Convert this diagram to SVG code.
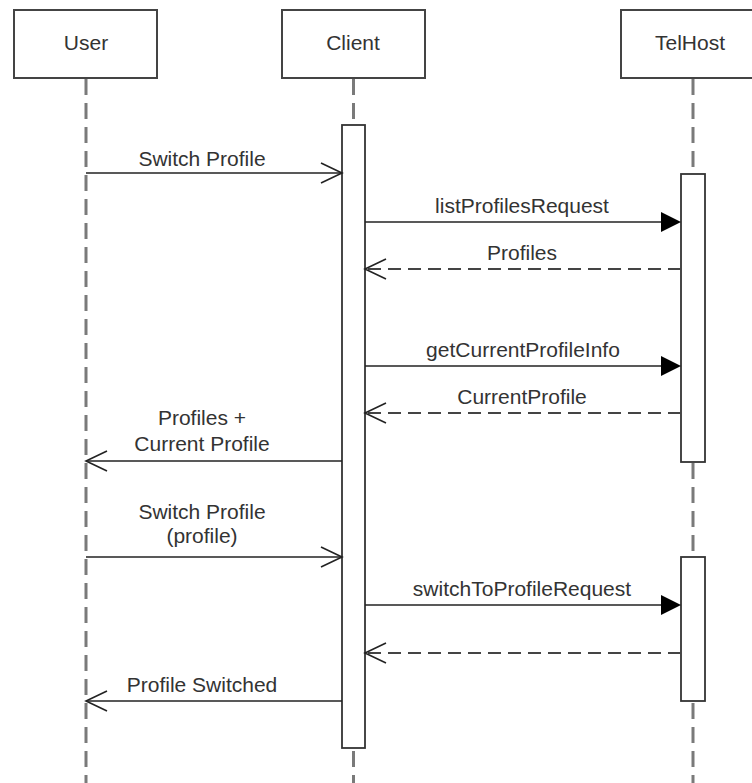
<svg xmlns="http://www.w3.org/2000/svg" width="752" height="783" viewBox="0 0 752 783">
  <style>
    .actor { fill: #ffffff; stroke: #444444; stroke-width: 2; }
    .life { stroke: #7a7a7a; stroke-width: 3; stroke-dasharray: 16 8; fill: none; }
    .act { fill: #ffffff; stroke: #333333; stroke-width: 1.8; }
    .msg { stroke: #222222; stroke-width: 1.6; fill: none; }
    .ret { stroke: #444444; stroke-width: 1.8; fill: none; stroke-dasharray: 13 7; }
    .head { stroke: #222222; stroke-width: 1.6; fill: none; }
    .tri { fill: #000000; stroke: none; }
    text { font-family: "Liberation Sans", Arial, sans-serif; font-size: 21px; fill: #333333; text-anchor: middle; }
  </style>

  <rect width="752" height="783" fill="#ffffff"/>

  <!-- lifelines -->
  <g id="lifelines">
    <line class="life" x1="86" y1="79" x2="86" y2="783"/>
    <line class="life" x1="353.5" y1="79" x2="353.5" y2="783"/>
    <line class="life" x1="693" y1="79" x2="693" y2="783"/>
  </g>

  <!-- participants -->
  <g id="user">
    <rect class="actor" x="14" y="10" width="143" height="68"/>
    <text x="86" y="50">User</text>
  </g>
  <g id="client">
    <rect class="actor" x="282" y="10" width="143" height="68"/>
    <text x="353" y="50">Client</text>
  </g>
  <g id="telhost">
    <rect class="actor" x="621" y="10" width="143" height="68"/>
    <text x="690" y="50">TelHost</text>
  </g>

  <!-- activation bars -->
  <g id="client-activation">
    <rect class="act" x="342" y="125" width="23" height="623"/>
  </g>
  <g id="telhost-activation-1">
    <rect class="act" x="681" y="174" width="24" height="288"/>
  </g>
  <g id="telhost-activation-2">
    <rect class="act" x="681" y="557" width="24" height="144"/>
  </g>

  <!-- messages -->
  <g id="connectors">
    <!-- Switch Profile -->
    <line class="msg" x1="86" y1="173" x2="342" y2="173"/>
    <polyline class="head" points="321,163 342,173 321,183"/>
    <!-- listProfilesRequest -->
    <line class="msg" x1="365" y1="222" x2="665" y2="222"/>
    <polygon class="tri" points="661,212 681,222 661,232"/>
    <!-- Profiles -->
    <line class="ret" x1="681" y1="269" x2="366" y2="269"/>
    <polyline class="head" points="386,259 365,269 386,279"/>
    <!-- getCurrentProfileInfo -->
    <line class="msg" x1="365" y1="366" x2="665" y2="366"/>
    <polygon class="tri" points="661,356 681,366 661,376"/>
    <!-- CurrentProfile -->
    <line class="ret" x1="681" y1="413" x2="366" y2="413"/>
    <polyline class="head" points="386,403 365,413 386,423"/>
    <!-- Profiles + Current Profile -->
    <line class="msg" x1="342" y1="461" x2="87" y2="461"/>
    <polyline class="head" points="107,451 86,461 107,471"/>
    <!-- Switch Profile (profile) -->
    <line class="msg" x1="86" y1="557" x2="342" y2="557"/>
    <polyline class="head" points="321,547 342,557 321,567"/>
    <!-- switchToProfileRequest -->
    <line class="msg" x1="365" y1="605" x2="665" y2="605"/>
    <polygon class="tri" points="661,595 681,605 661,615"/>
    <!-- return -->
    <line class="ret" x1="681" y1="653" x2="366" y2="653"/>
    <polyline class="head" points="386,643 365,653 386,663"/>
    <!-- Profile Switched -->
    <line class="msg" x1="342" y1="701" x2="87" y2="701"/>
    <polyline class="head" points="107,691 86,701 107,711"/>
  </g>

  <!-- message labels -->
  <g id="labels">
    <text x="202" y="166">Switch Profile</text>
    <text x="522" y="213">listProfilesRequest</text>
    <text x="522" y="260">Profiles</text>
    <text x="523" y="357">getCurrentProfileInfo</text>
    <text x="522" y="404">CurrentProfile</text>
    <text x="202" y="425">Profiles +</text>
    <text x="202" y="451">Current Profile</text>
    <text x="202" y="519">Switch Profile</text>
    <text x="202" y="543">(profile)</text>
    <text x="522" y="596">switchToProfileRequest</text>
    <text x="202" y="692">Profile Switched</text>
  </g>
</svg>
